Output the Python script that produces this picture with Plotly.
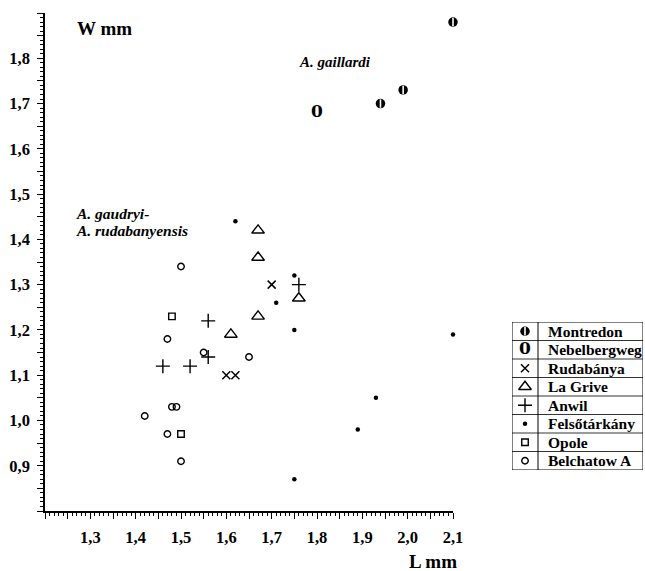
import plotly.graph_objects as go

# ---- data (L mm, W mm) ----
montredon_L = [1.94, 1.99, 2.10]
montredon_W = [1.70, 1.73, 1.88]
nebel_L = [1.80]
nebel_W = [1.68]
ruda_L = [1.70, 1.60, 1.62]
ruda_W = [1.30, 1.10, 1.10]
lagrive_L = [1.67, 1.67, 1.76, 1.67, 1.61]
lagrive_W = [1.42, 1.36, 1.27, 1.23, 1.19]
anwil_L = [1.76, 1.56, 1.56, 1.46, 1.52]
anwil_W = [1.30, 1.22, 1.14, 1.12, 1.12]
felso_L = [1.62, 1.75, 1.71, 1.75, 2.10, 1.93, 1.89, 1.75]
felso_W = [1.44, 1.32, 1.26, 1.20, 1.19, 1.05, 0.98, 0.87]
opole_L = [1.48, 1.50]
opole_W = [1.23, 0.97]
belch_L = [1.50, 1.47, 1.55, 1.65, 1.48, 1.49, 1.42, 1.47, 1.50]
belch_W = [1.34, 1.18, 1.15, 1.14, 1.03, 1.03, 1.01, 0.97, 0.91]

legend_names = ["Montredon", "Nebelbergweg", "Rudabánya", "La Grive",
                "Anwil", "Felsőtárkány", "Opole", "Belchatow A"]

x_tickvals = [1.2, 1.25, 1.3, 1.35, 1.4, 1.45, 1.5, 1.55, 1.6, 1.65, 1.7, 1.75,
              1.8, 1.85, 1.9, 1.95, 2.0, 2.05, 2.1]
x_ticktext = ["", "", "1,3", "", "1,4", "", "1,5", "", "1,6", "", "1,7", "",
              "1,8", "", "1,9", "", "2,0", "", "2,1"]
y_tickvals = [0.8, 0.85, 0.9, 0.95, 1.0, 1.05, 1.1, 1.15, 1.2, 1.25, 1.3, 1.35,
              1.4, 1.45, 1.5, 1.55, 1.6, 1.65, 1.7, 1.75, 1.8, 1.85, 1.9]
y_ticktext = ["", "", "0,9", "", "1,0", "", "1,1", "", "1,2", "", "1,3", "",
              "1,4", "", "1,5", "", "1,6", "", "1,7", "", "1,8", "", ""]

SERIF = "Liberation Serif"
W, H = 645, 571
ML, MR, MT, MB = 45, 2, 13, 60
PW, PH = W - ML - MR, H - MT - MB


def px_x(p):  # pixel -> plot-area fraction
    return (p - ML) / PW


def px_y(p):
    return (H - MB - p) / PH


styles = {
    "Montredon": dict(symbol="circle", size=9.5, color="black", line=dict(width=0)),
    "Rudabánya": dict(symbol="x-thin-open", size=8, color="black", line=dict(width=1.5, color="black")),
    "La Grive": dict(symbol="triangle-up-open", size=11, color="black", line=dict(width=1.4, color="black")),
    "Anwil": dict(symbol="cross-thin-open", size=10, color="black", line=dict(width=1.4, color="black")),
    "Felsőtárkány": dict(symbol="circle", size=4.5, color="black", line=dict(width=0)),
    "Opole": dict(symbol="square-open", size=6.5, color="black", line=dict(width=1.4, color="black")),
    "Belchatow A": dict(symbol="circle-open", size=6.5, color="black", line=dict(width=1.4, color="black")),
}
series = {
    "Montredon": (montredon_L, montredon_W),
    "Nebelbergweg": (nebel_L, nebel_W),
    "Rudabánya": (ruda_L, ruda_W),
    "La Grive": (lagrive_L, lagrive_W),
    "Anwil": (anwil_L, anwil_W),
    "Felsőtárkány": (felso_L, felso_W),
    "Opole": (opole_L, opole_W),
    "Belchatow A": (belch_L, belch_W),
}

fig = go.Figure()


def add_series(name, xs, ys, xaxis="x", yaxis="y"):
    if name == "Nebelbergweg":
        fig.add_trace(go.Scatter(x=xs, y=ys, mode="text", text=["0"] * len(xs),
                                 textfont=dict(family="DejaVu Serif", size=17, color="black", weight="bold"),
                                 showlegend=False, xaxis=xaxis, yaxis=yaxis, hoverinfo="skip",
                                 cliponaxis=False))
        return
    fig.add_trace(go.Scatter(x=xs, y=ys, mode="markers", marker=styles[name],
                             showlegend=False, xaxis=xaxis, yaxis=yaxis, name=name, cliponaxis=False))
    if name == "Montredon":
        fig.add_trace(go.Scatter(x=xs, y=ys, mode="markers",
                                 marker=dict(symbol="line-ns", size=6, line=dict(width=1.6, color="white")),
                                 showlegend=False, xaxis=xaxis, yaxis=yaxis, hoverinfo="skip",
                                 cliponaxis=False))


for nm in legend_names:
    add_series(nm, *series[nm])

# ---- legend table built on an auxiliary axis ----
n = len(legend_names)
rows = [i + 0.5 for i in range(n)]
for i, nm in enumerate(legend_names):
    add_series(nm, [13], [rows[i]], xaxis="x2", yaxis="y2")
    fig.add_annotation(x=34, y=rows[i], xref="x2", yref="y2", text=nm, showarrow=False,
                       xanchor="left", yanchor="middle",
                       font=dict(family=SERIF, size=15.5, color="black", weight="bold"))

fig.add_shape(type="rect", x0=0, x1=131, y0=0, y1=n, xref="x2", yref="y2",
              line=dict(color="black", width=1))
fig.add_shape(type="line", x0=26, x1=26, y0=0, y1=n, xref="x2", yref="y2",
              line=dict(color="black", width=1))
for i in range(1, n):
    fig.add_shape(type="line", x0=0, x1=131, y0=i, y1=i, xref="x2", yref="y2",
                  line=dict(color="black", width=0.8))

# ---- text labels ----
fig.add_annotation(x=px_x(75), y=px_y(28), xref="paper", yref="paper", text="W mm", showarrow=False,
                   xanchor="left", yanchor="middle",
                   font=dict(family=SERIF, size=19, color="black", weight="bold"))
fig.add_annotation(x=px_x(459), y=px_y(561), xref="paper", yref="paper", text="L mm", showarrow=False,
                   xanchor="right", yanchor="middle",
                   font=dict(family=SERIF, size=19, color="black", weight="bold"))
fig.add_annotation(x=px_x(297), y=px_y(62), xref="paper", yref="paper", text="A. gaillardi",
                   showarrow=False, xanchor="left", yanchor="middle",
                   font=dict(family=SERIF, size=15, color="black", weight="bold", style="italic"))
fig.add_annotation(x=px_x(74), y=px_y(213), xref="paper", yref="paper", text="A. gaudryi-",
                   showarrow=False, xanchor="left", yanchor="middle",
                   font=dict(family=SERIF, size=15.5, color="black", weight="bold", style="italic"))
fig.add_annotation(x=px_x(74), y=px_y(230), xref="paper", yref="paper", text="A. rudabanyensis",
                   showarrow=False, xanchor="left", yanchor="middle",
                   font=dict(family=SERIF, size=15.5, color="black", weight="bold", style="italic"))

axis_font = dict(family=SERIF, size=16.5, color="black", weight="bold")
minor = dict(tickmode="linear", tick0=0, dtick=0.01, ticks="outside", ticklen=3.5,
             tickwidth=1, tickcolor="black", showgrid=False)
fig.update_layout(
    width=W, height=H, autosize=False,
    margin=dict(l=ML, r=MR, t=MT, b=MB),
    paper_bgcolor="white", plot_bgcolor="white",
    showlegend=False,
    xaxis=dict(domain=[0, px_x(453)], range=[1.2, 2.1], tickmode="array",
               tickvals=x_tickvals, ticktext=x_ticktext,
               showgrid=False, zeroline=False, showline=True, linecolor="black", linewidth=1.5,
               ticks="outside", ticklen=6, tickwidth=1.3, tickcolor="black",
               tickfont=axis_font, ticklabelstandoff=4, minor=minor, automargin=False),
    yaxis=dict(range=[0.8, 1.9], tickmode="array", tickvals=y_tickvals, ticktext=y_ticktext,
               showgrid=False, zeroline=False, showline=True, linecolor="black", linewidth=1.5,
               ticks="outside", ticklen=6, tickwidth=1.3, tickcolor="black",
               tickfont=axis_font, ticklabelstandoff=4, minor=minor, automargin=False),
    xaxis2=dict(domain=[px_x(512), px_x(643)], range=[0, 131], anchor="y2", visible=False,
                fixedrange=True),
    yaxis2=dict(domain=[px_y(470), px_y(322)], range=[n, 0], anchor="x2", visible=False,
                fixedrange=True),
)

fig.write_html("out.html",
               config={"responsive": False, "displayModeBar": False},
               post_script="document.body.style.margin='0px';document.body.style.overflow='hidden';")
